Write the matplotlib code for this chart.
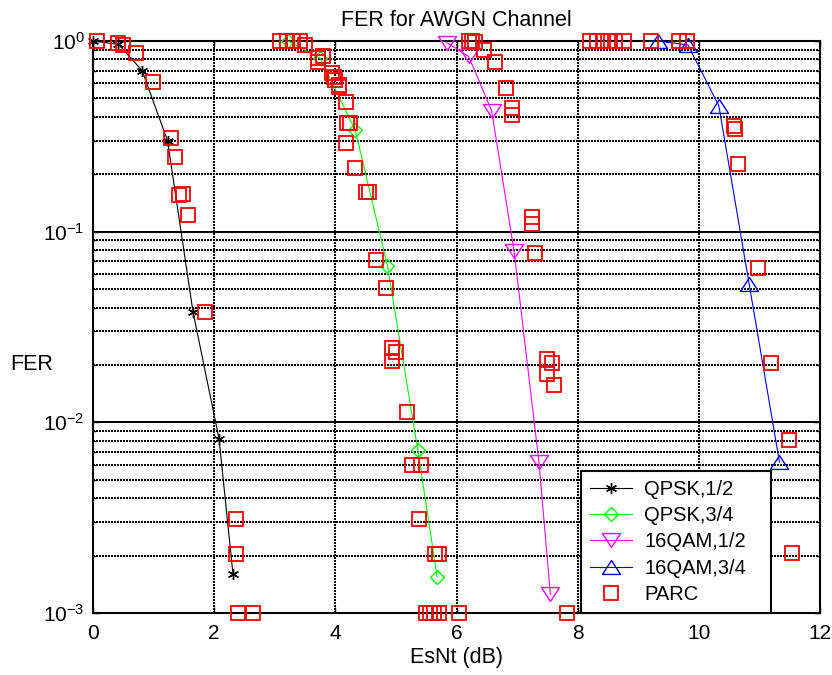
import matplotlib
matplotlib.use("Agg")
import matplotlib.pyplot as plt
from matplotlib.ticker import FixedLocator, FixedFormatter, LogLocator, NullFormatter

plt.rcParams['font.family'] = ['Liberation Sans', 'DejaVu Sans']
plt.rcParams['mathtext.fontset'] = 'custom'
plt.rcParams['mathtext.rm'] = 'Liberation Sans'
plt.rcParams['mathtext.it'] = 'Liberation Sans:italic'
plt.rcParams['mathtext.bf'] = 'Liberation Sans:bold'

# ---------------- data ----------------
qpsk12_x = [0.0, 0.42, 0.81, 1.23, 1.65, 2.08, 2.31]
qpsk12_y = [1.0, 0.96, 0.70, 0.30, 0.038, 0.0082, 0.0016]

qpsk34_x = [3.22, 3.75, 4.33, 4.86, 5.36, 5.68]
qpsk34_y = [1.0, 0.81, 0.34, 0.066, 0.0072, 0.00155]

qam12_x = [5.84, 6.20, 6.58, 6.95, 7.36, 7.55]
qam12_y = [0.98, 0.83, 0.43, 0.079, 0.0062, 0.00125]

qam34_x = [9.32, 9.82, 10.33, 10.83, 11.33]
qam34_y = [1.0, 0.953, 0.457, 0.0532, 0.0062]

parc_x = [
    0.06, 0.42, 0.50, 0.71, 0.99, 1.28, 1.36, 1.42, 1.48, 1.57, 1.85,
    2.36, 2.36, 2.39, 2.64,
    3.08, 3.20, 3.30, 3.42, 3.50, 3.72, 3.80, 3.72, 3.95, 3.97, 4.00, 4.06, 4.06,
    4.17, 4.20, 4.25, 4.17, 4.33, 4.50, 4.56, 4.67, 4.83, 4.94, 5.00, 4.94,
    5.18, 5.26, 5.42, 5.38, 5.64, 5.71, 5.49, 5.56, 5.63, 5.71, 6.04, 7.83,
    6.20, 6.25, 6.30, 6.45, 6.64, 6.81, 6.92, 6.92, 7.25, 7.25, 7.29,
    7.50, 7.58, 7.50, 7.61,
    8.21, 8.32, 8.42, 8.50, 8.62, 8.77, 9.21, 9.68, 9.81,
    10.58, 10.60, 10.64, 10.98, 11.19, 11.48, 11.53,
]
parc_y = [
    1.0, 0.97, 0.95, 0.86, 0.61, 0.31, 0.245, 0.155, 0.158, 0.122, 0.0377,
    0.0031, 0.00205, 0.001, 0.001,
    1.0, 1.0, 1.0, 1.0, 0.95, 0.81, 0.83, 0.78, 0.68, 0.65, 0.625, 0.59, 0.576,
    0.48, 0.37, 0.37, 0.29, 0.215, 0.162, 0.162, 0.071, 0.0506, 0.0245, 0.0235, 0.0209,
    0.0113, 0.006, 0.006, 0.0031, 0.00205, 0.00205, 0.001, 0.001, 0.001, 0.001, 0.001, 0.001,
    1.0, 1.0, 0.99, 0.90, 0.78, 0.565, 0.444, 0.41, 0.12, 0.11, 0.0777,
    0.0214, 0.0205, 0.018, 0.0156,
    1.0, 1.0, 1.0, 1.0, 1.0, 1.0, 1.0, 1.0, 1.0,
    0.356, 0.345, 0.227, 0.0648, 0.0205, 0.0081, 0.00206,
]

series_labels = ['QPSK,1/2', 'QPSK,3/4', '16QAM,1/2', '16QAM,3/4', 'PARC']
x_ticks = [0, 2, 4, 6, 8, 10, 12]
y_ticks = [1e-3, 1e-2, 1e-1, 1e0]
y_ticklabels = [r'$\mathregular{10^{-3}}$', r'$\mathregular{10^{-2}}$',
                r'$\mathregular{10^{-1}}$', r'$\mathregular{10^{0}}$']

# ---------------- figure ----------------
fig = plt.figure(figsize=(8.32, 6.75), dpi=100)
ax = fig.add_axes([0.1118, 0.0919, 0.8738, 0.8474])
ax.set_yscale('log')
ax.set_xlim(0, 12)
ax.set_ylim(1e-3, 1)

tri_down = [(-0.65, 0.5), (0.65, 0.5), (0.0, -0.5), (-0.65, 0.5)]
tri_up = [(-0.65, -0.5), (0.65, -0.5), (0.0, 0.5), (-0.65, -0.5)]

lw = 0.8
ax.plot(qpsk12_x, qpsk12_y, color='black', lw=lw, marker=(6, 2, 0), ms=8,
        mew=1.0, label=series_labels[0], clip_on=False, zorder=3)
ax.plot(qpsk34_x, qpsk34_y, color='#00ff00', lw=lw, marker='D', ms=7.5,
        mfc='none', mew=1.0, label=series_labels[1], clip_on=False, zorder=3)
ax.plot(qam12_x, qam12_y, color='#ff00ff', lw=lw, marker=tri_down, ms=13,
        mfc='none', mew=1.0, label=series_labels[2], clip_on=False, zorder=3)
ax.plot(qam34_x, qam34_y, color='#0000ff', lw=lw, marker=tri_up, ms=13,
        mfc='none', mew=1.0, label=series_labels[3], clip_on=False, zorder=3)
ax.plot(parc_x, parc_y, linestyle='none', marker='s', ms=10.5, mfc='none',
        mec='#ff0000', mew=1.3, label=series_labels[4], clip_on=False, zorder=3)

# ticks
ax.xaxis.set_major_locator(FixedLocator(x_ticks))
ax.yaxis.set_major_locator(FixedLocator(y_ticks))
ax.yaxis.set_major_formatter(FixedFormatter(y_ticklabels))
ax.yaxis.set_minor_locator(LogLocator(base=10, subs=[2, 3, 4, 5, 6, 7, 8, 9]))
ax.yaxis.set_minor_formatter(NullFormatter())
ax.tick_params(which='both', direction='in', top=True, right=True,
               labelsize=15, width=1.0, color='black')
ax.tick_params(which='major', length=4)
ax.tick_params(which='minor', length=2.5)
ax.tick_params(axis='x', pad=8)
ax.tick_params(axis='y', pad=6)

# grid
ax.set_axisbelow(True)
dot = (0, (1, 1))
ax.grid(True, axis='x', which='major', color='black', linestyle=dot, lw=1.44,
        antialiased=False)
ax.grid(True, axis='y', which='major', color='black', linestyle='-', lw=1.44,
        antialiased=False)
ax.grid(True, axis='y', which='minor', color='black', linestyle=dot, lw=1.44,
        antialiased=False)

for s in ax.spines.values():
    s.set_linewidth(1.5)
    s.set_color('black')

ax.set_title('FER for AWGN Channel', fontsize=15.5, pad=11)
ax.set_xlabel('EsNt (dB)', fontsize=15.5, labelpad=3)
ax.set_ylabel('FER', fontsize=15.5, rotation=0, ha='center', va='center')
ax.yaxis.set_label_coords(-0.084, 0.435)

leg = ax.legend(loc='lower left', bbox_to_anchor=(0.671, 0.0, 0.262, 0.249),
                mode='expand', borderaxespad=0, fontsize=14.5, labelspacing=0.36,
                handlelength=2.1, handletextpad=0.6, borderpad=0.45,
                fancybox=False, framealpha=1, edgecolor='black')
leg.get_frame().set_linewidth(1.5)
leg.set_zorder(5)

fig.savefig('out.png', dpi=100)
